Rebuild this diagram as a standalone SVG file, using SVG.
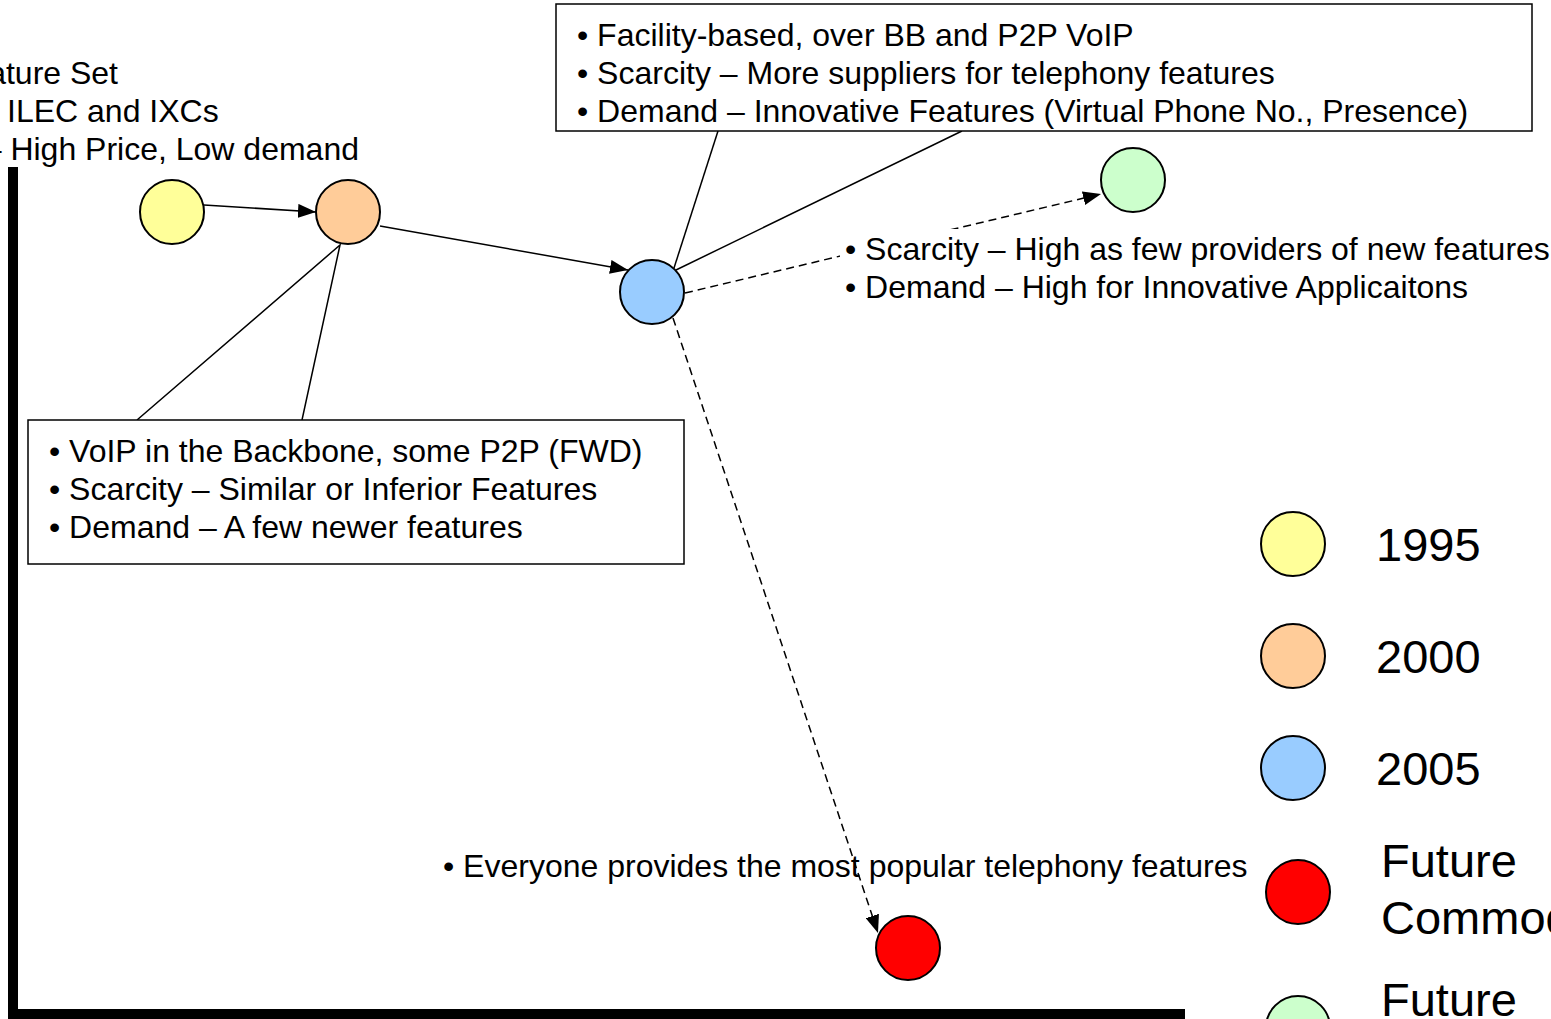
<svg xmlns="http://www.w3.org/2000/svg" width="1551" height="1019" viewBox="0 0 1551 1019">
<defs>
<style>
text{font-family:"Liberation Sans",Arial,sans-serif;fill:#000}
.t{font-size:32px}
.lg{font-size:47px}
.node{stroke:#000;stroke-width:2}
.box{fill:#fff;stroke:#000;stroke-width:1.5}
.ptr{fill:none;stroke:#000;stroke-width:1.5}
.edge{fill:none;stroke:#000;stroke-width:1.5}
.dash{stroke-dasharray:8 5}
</style>
<marker id="ah" viewBox="0 0 18 14" refX="18" refY="7" markerWidth="18" markerHeight="14" markerUnits="userSpaceOnUse" orient="auto">
<path d="M0,0 L18,7 L0,14 z" fill="#000"/>
</marker>
</defs>
<rect width="1551" height="1019" fill="#fff"/>

<g id="axes">
<rect x="8" y="167" width="10" height="852" fill="#000"/>
<rect x="8" y="1009" width="1177" height="10" fill="#000"/>
</g>

<g id="label-1995">
<text class="t" x="118" y="84" text-anchor="end">Feature Set</text>
<text class="t" x="7" y="122">ILEC and IXCs</text>
<text class="t" x="359" y="160" text-anchor="end">– High Price, Low demand</text>
</g>

<g id="callout-2000">
<polyline class="ptr" points="137,420 340,245 302,420"/>
<rect class="box" x="28" y="420" width="656" height="144"/>
<text class="t" x="49" y="462">• VoIP in the Backbone, some P2P (FWD)</text>
<text class="t" x="49" y="500">• Scarcity – Similar or Inferior Features</text>
<text class="t" x="49" y="538">• Demand – A few newer features</text>
</g>

<g id="callout-2005">
<polyline class="ptr" points="718,131 674,268"/>
<polyline class="ptr" points="962,131 676,270"/>
<rect class="box" x="556" y="4" width="976" height="127"/>
<text class="t" x="577" y="46">• Facility-based, over BB and P2P VoIP</text>
<text class="t" x="577" y="84">• Scarcity – More suppliers for telephony features</text>
<text class="t" x="577" y="122">• Demand – Innovative Features (Virtual Phone No., Presence)</text>
</g>

<g id="connectors">
<line class="edge" x1="204" y1="205" x2="316" y2="212" marker-end="url(#ah)"/>
<line class="edge" x1="380" y1="226" x2="628" y2="270" marker-end="url(#ah)"/>
<line class="edge dash" x1="685" y1="293" x2="1101" y2="194" marker-end="url(#ah)"/>
<line class="edge dash" x1="673" y1="318" x2="878" y2="933" marker-end="url(#ah)"/>
</g>

<g id="label-green">
<rect x="840" y="229" width="711" height="76" fill="#fff"/>
<text class="t" x="845" y="260">• Scarcity – High as few providers of new features</text>
<text class="t" x="845" y="298">• Demand – High for Innovative Applicaitons</text>
</g>

<g id="label-red">
<text class="t" x="443" y="877">• Everyone provides the most popular telephony features</text>
</g>

<g id="node-1995"><circle class="node" cx="172" cy="212" r="32" fill="#FFFF99"/></g>
<g id="node-2000"><circle class="node" cx="348" cy="212" r="32" fill="#FFCC99"/></g>
<g id="node-2005"><circle class="node" cx="652" cy="292" r="32" fill="#99CCFF"/></g>
<g id="node-future-green"><circle class="node" cx="1133" cy="180" r="32" fill="#CCFFCC"/></g>
<g id="node-future-red"><circle class="node" cx="908" cy="948" r="32" fill="#FF0000"/></g>

<g id="legend">
<circle class="node" cx="1293" cy="544" r="32" fill="#FFFF99"/>
<text class="lg" x="1376" y="561">1995</text>
<circle class="node" cx="1293" cy="656" r="32" fill="#FFCC99"/>
<text class="lg" x="1376" y="673">2000</text>
<circle class="node" cx="1293" cy="768" r="32" fill="#99CCFF"/>
<text class="lg" x="1376" y="785">2005</text>
<circle class="node" cx="1298" cy="892" r="32" fill="#FF0000"/>
<text class="lg" x="1381" y="877">Future</text>
<text class="lg" x="1381" y="934">Commodity</text>
<circle class="node" cx="1298" cy="1028" r="32" fill="#CCFFCC"/>
<text class="lg" x="1381" y="1016">Future</text>
</g>
</svg>
